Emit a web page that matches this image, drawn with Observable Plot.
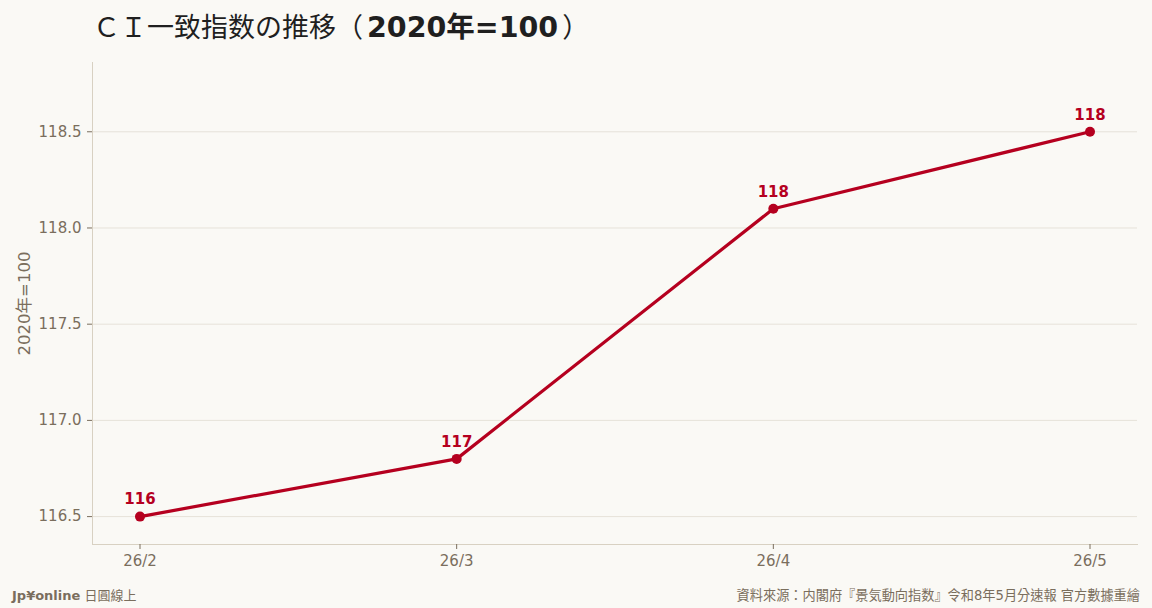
<!DOCTYPE html>
<html>
<head>
<meta charset="utf-8">
<script src="https://cdn.jsdelivr.net/npm/d3@7"></script>
<script src="https://cdn.jsdelivr.net/npm/@observablehq/plot@0.6"></script>
<style>
  html, body { margin: 0; padding: 0; background: #faf9f5; }
  body { width: 1152px; height: 608px; position: relative; overflow: hidden;
         font-family: "DejaVu Sans", "Noto Sans CJK TC", sans-serif; }
  #title { position: absolute; left: 93px; top: 8px; font-size: 27px; color: #1f1f1f;
           font-family: "DejaVu Sans", "Noto Sans CJK TC", sans-serif; white-space: nowrap; line-height: 40px; }
  #title b { font-weight: bold; font-size: 28.5px; margin: 0 4px; }
  #chart { position: absolute; left: 0; top: 50px; }
  #src-left { position: absolute; left: 12px; top: 585px; font-size: 13px; color: #7a6e5d;
              font-family: "DejaVu Sans", "Noto Sans CJK TC", sans-serif; }
  #src-left b { font-weight: bold; }
  #src-right { position: absolute; right: 12px; top: 585px; font-size: 13.2px; color: #7a6e5d;
               font-family: "DejaVu Sans", "Noto Sans CJK TC", sans-serif; }
</style>
</head>
<body>
<div id="title">ＣＩ一致指数の推移（<b>2020年=100</b>）</div>
<div id="chart"></div>
<div id="src-left"><b>Jp¥online</b> 日圓線上</div>
<div id="src-right">資料來源：内閣府『景気動向指数』令和8年5月分速報 官方數據重繪</div>
<script>
const months = ["26/2", "26/3", "26/4", "26/5"];
const values = [116.5, 116.8, 118.1, 118.5];
const labels = ["116", "117", "118", "118"];
const yTicks = [116.5, 117.0, 117.5, 118.0, 118.5];

const data = months.map((m, i) => ({month: m, value: values[i], label: labels[i]}));

const red = "#b5001f";
const axisColor = "#7a6e5d";

const chart = Plot.plot({
  width: 1152,
  height: 530,
  marginTop: 12,
  marginBottom: 36,
  marginLeft: 92,
  marginRight: 15,
  style: { background: "transparent", fontFamily: "'DejaVu Sans', 'Noto Sans CJK TC', sans-serif", fontSize: "15px", color: axisColor },
  x: { type: "point", domain: months, padding: 0.15, round: false, label: null },
  y: { domain: [116.355, 118.86], label: null },
  marks: [
    Plot.gridY(yTicks, { stroke: "#e6e2d9", strokeOpacity: 1, strokeWidth: 1 }),
    Plot.frame({ anchor: "left", stroke: "#d8d1c2" }),
    Plot.frame({ anchor: "bottom", stroke: "#d8d1c2" }),
    Plot.axisY(yTicks, { tickFormat: d => d.toFixed(1), tickSize: 5, tickPadding: 6, stroke: axisColor, fill: axisColor, fontSize: 15, label: null }),
    Plot.axisX(months, { tickSize: 5, tickPadding: 6, stroke: axisColor, fill: axisColor, fontSize: 15, label: null }),
    Plot.text(["2020年=100"], { frameAnchor: "left", textAnchor: "middle", dx: -68, rotate: -90, fill: axisColor, fontSize: 16.5 }),
    Plot.line(data, { x: "month", y: "value", stroke: red, strokeWidth: 3.2 }),
    Plot.dot(data, { x: "month", y: "value", fill: red, r: 5 }),
    Plot.text(data, { x: "month", y: "value", text: "label", dy: -17, fill: red, fontWeight: "bold", fontSize: 15 })
  ]
});
document.getElementById("chart").appendChild(chart);
</script>
</body>
</html>
